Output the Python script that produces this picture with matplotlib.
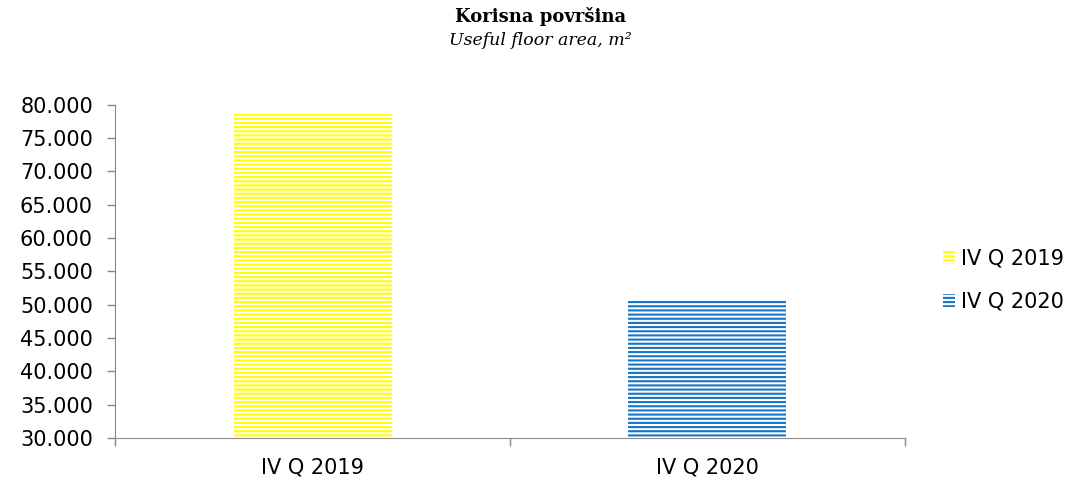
import matplotlib.pyplot as plt
import matplotlib.ticker as mticker

categories = ['IV Q 2019', 'IV Q 2020']
values = [78700, 50800]
colors = ['#FFFF00', '#1874C4']

plt.rcParams['hatch.linewidth'] = 1.5

fig = plt.figure(figsize=(10.76, 4.79), dpi=100)
ax = fig.add_axes([0.107, 0.086, 0.734, 0.695])

for i, (cat, val, col) in enumerate(zip(categories, values, colors)):
    ax.bar(i, val - 300, bottom=300, width=0.4, facecolor='white', edgecolor=col,
           hatch='----', linewidth=0, label=cat)

ax.set_xlim(-0.5, 1.5)
ax.set_ylim(30000, 80000)
ax.yaxis.set_major_locator(mticker.MultipleLocator(5000))
ax.yaxis.set_major_formatter(mticker.FuncFormatter(lambda v, p: f'{v:,.0f}'.replace(',', '.')))

ax.set_xticks([0, 1])
ax.set_xticklabels(categories)
ax.set_xticks([-0.5, 0.5, 1.5], minor=True)
ax.tick_params(axis='x', which='major', length=0, pad=14, labelsize=15)
ax.tick_params(axis='x', which='minor', length=6, color='#888888', width=1)
ax.tick_params(axis='y', length=6, color='#888888', width=1, labelsize=15, pad=10)

for s in ['top', 'right']:
    ax.spines[s].set_visible(False)
for s in ['left', 'bottom']:
    ax.spines[s].set_color('#888888')

fig.text(0.502, 0.965, 'Korisna površina', ha='center', va='center',
         family='DejaVu Serif', fontweight='bold', fontsize=13)
fig.text(0.502, 0.915, 'Useful floor area, m²', ha='center', va='center',
         family='DejaVu Serif', style='italic', fontsize=12.5)

ax.legend(loc='center left', bbox_to_anchor=(0.876, 0.415), bbox_transform=fig.transFigure,
          frameon=False, fontsize=15, handlelength=0.6, handleheight=0.6,
          handletextpad=0.3, labelspacing=1.1, borderpad=0, borderaxespad=0)

fig.savefig('out.png', dpi=100)
